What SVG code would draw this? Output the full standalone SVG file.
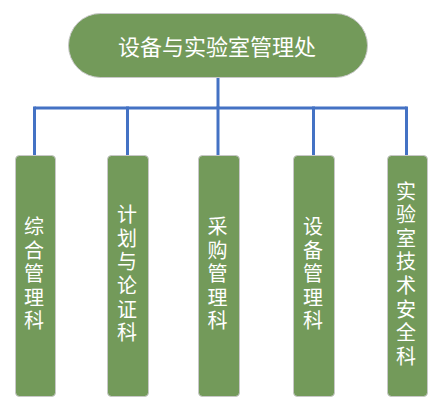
<svg xmlns="http://www.w3.org/2000/svg" width="439" height="415" viewBox="0 0 439 415">
<style>
.node{fill:#739a5a;stroke:#c8c8c8;stroke-width:1}
.lbl{fill:#ffffff;font-family:"Noto Sans CJK SC","Noto Sans",sans-serif;text-anchor:middle}
.top{font-size:22px;dominant-baseline:central}
.sub{font-size:20px;writing-mode:vertical-rl;letter-spacing:3.6px}
.link{fill:none;stroke:#4472c4;stroke-width:3}
</style>
<rect width="439" height="415" fill="#ffffff"/>
<g id="connectors">
<path class="link" d="M218,78 V108"/>
<path class="link" d="M34.5,108 H406.5"/>
<path class="link" d="M34.5,106.5 V155"/>
<path class="link" d="M127.5,106.5 V155"/>
<path class="link" d="M218,106.5 V155"/>
<path class="link" d="M313.5,106.5 V155"/>
<path class="link" d="M406.5,106.5 V155"/>
</g>
<g id="root">
<rect class="node" x="68.5" y="13.5" width="299" height="64" rx="32"/>
<text class="lbl top" x="217" y="45">设备与实验室管理处</text>
</g>
<g id="n1">
<rect class="node" x="15.5" y="155.5" width="40" height="241" rx="4"/>
<text class="lbl sub" x="34" y="275.5">综合管理科</text>
</g>
<g id="n2">
<rect class="node" x="107.5" y="155.5" width="41" height="241" rx="4"/>
<text class="lbl sub" x="127" y="275.5">计划与论证科</text>
</g>
<g id="n3">
<rect class="node" x="198.5" y="155.5" width="41" height="241" rx="4"/>
<text class="lbl sub" x="217.5" y="275.5">采购管理科</text>
</g>
<g id="n4">
<rect class="node" x="293.5" y="155.5" width="41" height="241" rx="4"/>
<text class="lbl sub" x="313" y="275.5">设备管理科</text>
</g>
<g id="n5">
<rect class="node" x="387.5" y="155.5" width="40" height="241" rx="4"/>
<text class="lbl sub" x="406" y="275.5">实验室技术安全科</text>
</g>
</svg>
